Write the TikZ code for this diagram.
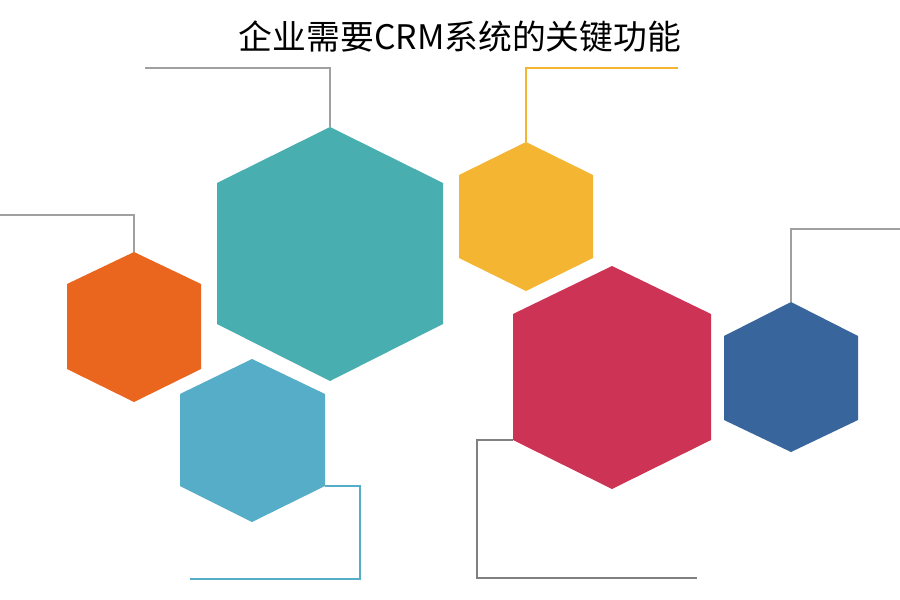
\documentclass[tikz,border=0pt]{standalone}
\usepackage{fontspec}
\newfontfamily\cjk{Noto Sans CJK SC}
\definecolor{cteal}{HTML}{48AEAF}
\definecolor{corange}{HTML}{EA651D}
\definecolor{clblue}{HTML}{56ADC8}
\definecolor{cyellow}{HTML}{F4B532}
\definecolor{cred}{HTML}{CD3355}
\definecolor{cblue}{HTML}{37659C}
\definecolor{cgreyl}{HTML}{A0A0A0}
\definecolor{cgreyd}{HTML}{808080}
\tikzset{
  hexfill/.style={fill=#1, draw=none},
  leader/.style={draw=#1, line width=2pt, line cap=butt, line join=miter},
}
% hexagon: center x, top, upper corner y, lower corner y, bottom, left, right
\newcommand{\myhex}[8]{%
  \fill[#1] (#2,#3) -- (#8,#4) -- (#8,#5) -- (#2,#6) -- (#7,#5) -- (#7,#4) -- cycle;}
\begin{document}
\begin{tikzpicture}[x=1pt,y=-1pt]
\useasboundingbox (0,0) rectangle (900,600);
\fill[white] (0,0) rectangle (900,600);
% title
\node[font=\cjk\fontsize{33.8}{38}\selectfont, inner sep=0pt] (title) at (460,37) {企业需要CRM系统的关键功能};
% hexagons
\myhex{cteal}{330}{127}{183}{324}{381}{217}{443}
\myhex{corange}{134}{252}{284}{369}{402}{67}{201}
\myhex{clblue}{252}{359}{394}{486}{522}{180}{325}
\myhex{cyellow}{526}{142}{175}{258}{291}{459}{593}
\myhex{cred}{612}{266}{314}{440}{489}{513}{711}
\myhex{cblue}{791}{302}{336}{420}{452}{724}{858}
% anchor coordinates
\coordinate (tealtop) at (330,127);
\coordinate (tealA) at (330,68);
\coordinate (tealB) at (145,68);
\coordinate (orangetop) at (134,252);
\coordinate (orangeA) at (134,215);
\coordinate (orangeB) at (0,215);
\coordinate (lbcorner) at (325,486);
\coordinate (lbA) at (360,486);
\coordinate (lbB) at (360,579);
\coordinate (lbC) at (190,579);
\coordinate (yeltop) at (526,142);
\coordinate (yelA) at (526,68);
\coordinate (yelB) at (678,68);
\coordinate (redcorner) at (513,440);
\coordinate (redA) at (477,440);
\coordinate (redB) at (477,578);
\coordinate (redC) at (697,578);
\coordinate (bluetop) at (791,302);
\coordinate (blueA) at (791,229);
\coordinate (blueB) at (900,229);
% leaders
\draw[leader=cgreyl] (tealtop) -- (tealA) -- (tealB);
\draw[leader=cgreyl] (orangetop) -- (orangeA) -- (orangeB);
\draw[leader=clblue] (lbcorner) -- (lbA) -- (lbB) -- (lbC);
\draw[leader=cyellow] (yeltop) -- (yelA) -- (yelB);
\draw[leader=cgreyd] (redcorner) -- (redA) -- (redB) -- (redC);
\draw[leader=cgreyl] (bluetop) -- (blueA) -- (blueB);
\end{tikzpicture}
\end{document}
